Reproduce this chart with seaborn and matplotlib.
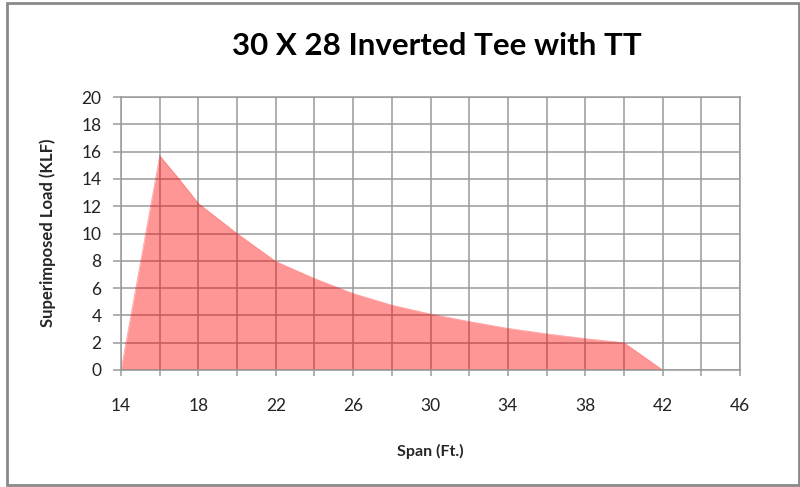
import matplotlib
matplotlib.use("Agg")
import matplotlib.pyplot as plt
import seaborn as sns
import pandas as pd
from matplotlib.patches import Rectangle

# Data
span_ft = [14, 16, 17, 18, 20, 22, 24, 26, 28, 30, 32, 34, 36, 38, 40, 42]
load_klf = [0.0, 15.7, 14.0, 12.2, 10.0, 7.95, 6.7, 5.6, 4.75, 4.1, 3.55, 3.05, 2.65, 2.3, 2.0, 0.0]
x_tick_labels = [14, 18, 22, 26, 30, 34, 38, 42, 46]
y_ticks = list(range(0, 21, 2))

title = "30 X 28 Inverted Tee with TT"
x_label = "Span (Ft.)"
y_label = "Superimposed Load (KLF)"

df = pd.DataFrame({"span": span_ft, "load": load_klf})

sns.set_theme(style="white")
plt.rcParams["font.family"] = ["Lato", "DejaVu Sans"]

fig = plt.figure(figsize=(8, 4.87), dpi=100)
ax = fig.add_axes([121 / 800, 1 - 370 / 487, (740 - 121) / 800, (370 - 97) / 487])

grid_c = "#9a9a9a"
fill_c = "#ff0000"

sns.lineplot(data=df, x="span", y="load", ax=ax, color=fill_c, alpha=0.4, linewidth=0.5)
ax.fill_between(df["span"], df["load"], 0, color=fill_c, alpha=0.41, linewidth=0)

ax.set_xlim(14, 46)
ax.set_ylim(0, 20)
ax.set_xticks(list(range(14, 47, 2)))
ax.set_xticklabels([str(v) if v in x_tick_labels else "" for v in range(14, 47, 2)])
ax.set_yticks(y_ticks)
ax.set_yticklabels([str(v) for v in y_ticks])

ax.set_axisbelow(True)
ax.grid(True, color=grid_c, linewidth=1.1)
for s in ax.spines.values():
    s.set_color(grid_c)
    s.set_linewidth(1.1)

ax.tick_params(axis="x", direction="out", length=4.5, width=1.1, color=grid_c,
               pad=16, labelsize=12.5, labelcolor="#222222", bottom=True)
ax.tick_params(axis="y", direction="out", length=6, width=1.1, color=grid_c,
               pad=8, labelsize=12.5, labelcolor="#222222", left=True)

ax.set_xlabel(x_label, fontsize=11.5, fontweight="bold", labelpad=0)
ax.set_ylabel(y_label, fontsize=12, fontweight="bold", labelpad=0)
ax.xaxis.set_label_coords(0.5 * (121 + 740) / 800, 1 - 444 / 487, transform=fig.transFigure)
ax.yaxis.set_label_coords(56 / 800, 1 - 233 / 487, transform=fig.transFigure)

fig.text(437 / 800, 1 - 46 / 487, title, ha="center", va="center",
         fontsize=22.5, fontweight="bold", color="black")

fig.patches.append(Rectangle((7 / 800, 2 / 487), (799 - 7) / 800, (484 - 2) / 487,
                             transform=fig.transFigure, fill=False,
                             edgecolor="#8a8a8a", linewidth=2))

fig.savefig("out.png", dpi=100)
